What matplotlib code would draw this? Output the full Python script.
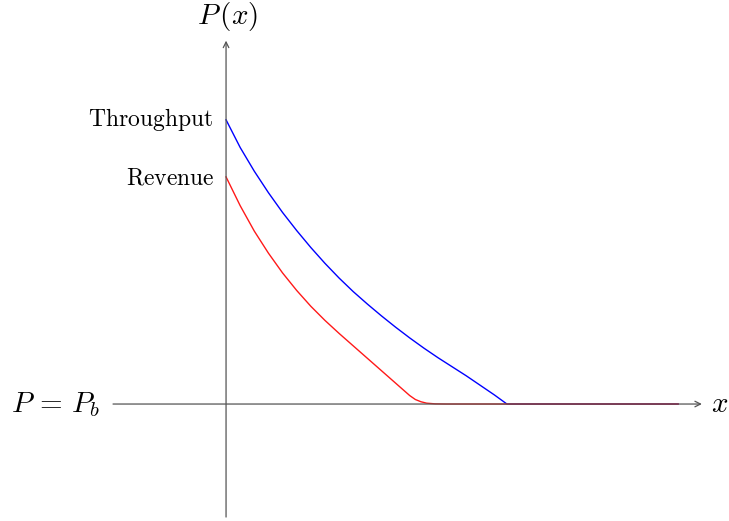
import matplotlib
matplotlib.use("Agg")
import matplotlib.pyplot as plt

plt.rcParams["mathtext.fontset"] = "cm"

# values (1 unit = 1 grid step of the sketch)
throughput_x = [0.0, 0.25, 0.5, 0.75, 1.0, 1.25, 1.5, 1.75, 2.0, 2.25, 2.5,
                2.75, 3.0, 3.25, 3.5, 3.75, 4.0, 4.25, 4.5, 4.75, 4.97, 8.0]
throughput_y = [5.03, 4.54, 4.12, 3.74, 3.39, 3.07, 2.77, 2.49, 2.23, 1.99, 1.77,
                1.56, 1.36, 1.17, 0.99, 0.82, 0.66, 0.50, 0.33, 0.16, 0.0, 0.0]
revenue_x = [0.0, 0.25, 0.5, 0.75, 1.0, 1.25, 1.5, 1.75, 2.0, 2.25, 2.5,
             2.75, 3.0, 3.25, 3.35, 3.45, 3.55, 3.7, 3.9, 8.0]
revenue_y = [4.02, 3.51, 3.06, 2.67, 2.32, 2.01, 1.73, 1.48, 1.25, 1.03, 0.81,
             0.59, 0.37, 0.15, 0.08, 0.04, 0.015, 0.003, 0.0, 0.0]

fig = plt.figure(figsize=(7.29, 5.21), dpi=100)
ax = fig.add_axes([0, 0, 1, 1])
ax.set_xlim(-4.0, 8.9)
ax.set_ylim(-2.07, 7.15)
ax.axis("off")

axis_kw = dict(arrowstyle="->", lw=0.9, color="#555555", shrinkA=0, shrinkB=0)
ax.annotate("", xy=(8.42, 0), xytext=(-2.0, 0), arrowprops=axis_kw)
ax.annotate("", xy=(0, 6.43), xytext=(0, -2.0), arrowprops=axis_kw)

ax.plot(throughput_x, throughput_y, color="blue", lw=1.0,
        solid_joinstyle="round")
ax.plot(revenue_x, revenue_y, color="red", lw=1.0, alpha=0.9,
        solid_joinstyle="round")

ax.text(0.02, 6.85, r"$P\,(x)$", ha="center", va="center", fontsize=21)
ax.text(8.58, 0, r"$x$", ha="left", va="center", fontsize=21)
ax.text(-2.23, 0, r"$P\,=\,P_b$", ha="right", va="center", fontsize=21)
ax.text(-0.23, 5.03, r"$\mathrm{Throughput}$", ha="right", va="center", fontsize=17)
ax.text(-0.2, 4.0, r"$\mathrm{Revenue}$", ha="right", va="center", fontsize=17)

fig.savefig("out.png", dpi=100)
